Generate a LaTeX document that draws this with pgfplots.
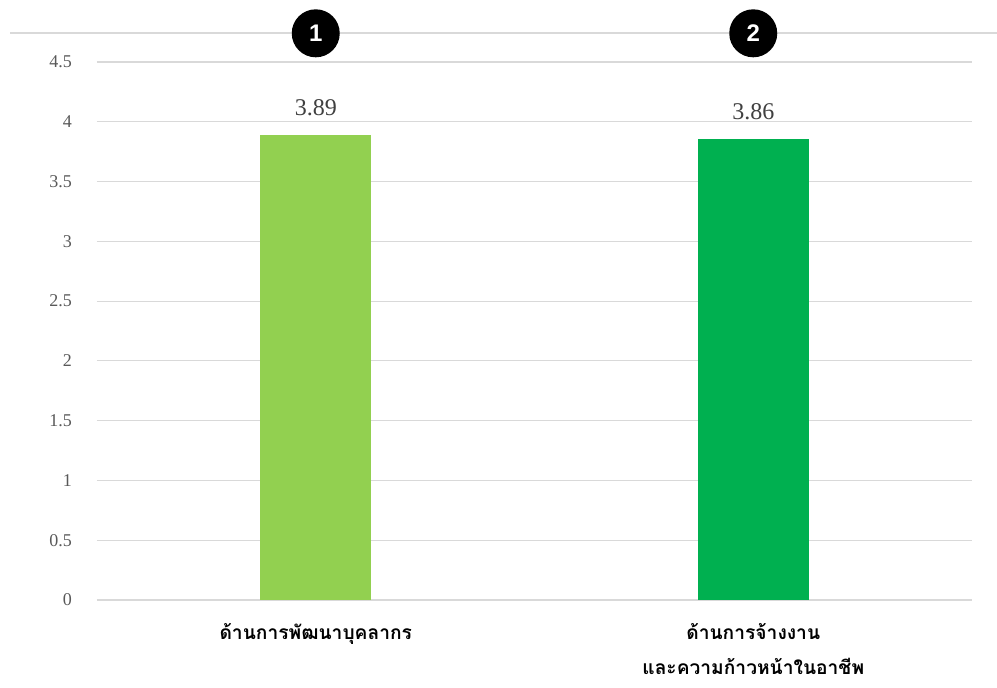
\documentclass[border=0pt]{standalone}
\usepackage{fontspec}
\setmainfont{Liberation Serif}
\setsansfont{Liberation Sans}
\newfontfamily\thaifont[Script=Thai]{Loma}
\usepackage{pgfplots}
\pgfplotsset{compat=1.18}
\definecolor{barA}{HTML}{92D050}
\definecolor{barB}{HTML}{00B050}
\definecolor{gridc}{HTML}{D9D9D9}
\definecolor{tickc}{HTML}{595959}
\definecolor{valc}{HTML}{404040}
\begin{document}
\begin{tikzpicture}
\useasboundingbox (0,0) rectangle (498.5pt,344pt);
% thin rule across the top
\draw[gridc, line width=0.6pt] (5pt,327.5pt) -- (498.5pt,327.5pt);
\begin{axis}[
  at={(48.5pt,44pt)}, anchor=south west,
  scale only axis, width=437.5pt, height=269pt,
  xmin=-0.5, xmax=1.5, ymin=0, ymax=4.5,
  ytick={0,0.5,...,4.5},
  xtick={0,1},
  xticklabels={{ด้านการพัฒนาบุคลากร},{ด้านการจ้างงาน\\และความก้าวหน้าในอาชีพ}},
  xticklabel style={font=\thaifont\bfseries\fontsize{9.6}{17.5}\selectfont, align=center, text=black, yshift=-8pt},
  yticklabel style={font=\fontsize{9}{10}\selectfont, text=tickc, xshift=-9pt},
  /pgf/number format/assume math mode=true,
  axis line style={draw=none},
  major tick length=0pt,
  ymajorgrids, grid style={gridc, line width=0.6pt},
  clip=false,
  nodes near coords={\pgfmathprintnumber[fixed,precision=2,fixed zerofill]{\pgfplotspointmeta}},
  nodes near coords style={font=\fontsize{12}{14}\selectfont, text=valc, yshift=6pt},
  point meta=y,
]
\addplot[ybar, bar width=55.5pt, fill=barA, draw=none] coordinates {(0,3.89)};
\addplot[ybar, bar width=55.5pt, fill=barB, draw=none] coordinates {(1,3.86)};
\node[circle, fill=black, minimum size=24pt, inner sep=0pt, text=white, font=\sffamily\bfseries\fontsize{12}{13}\selectfont] at (axis cs:0,4.74) {1};
\node[circle, fill=black, minimum size=24pt, inner sep=0pt, text=white, font=\sffamily\bfseries\fontsize{12}{13}\selectfont] at (axis cs:1,4.74) {2};
\end{axis}
\end{tikzpicture}
\end{document}
